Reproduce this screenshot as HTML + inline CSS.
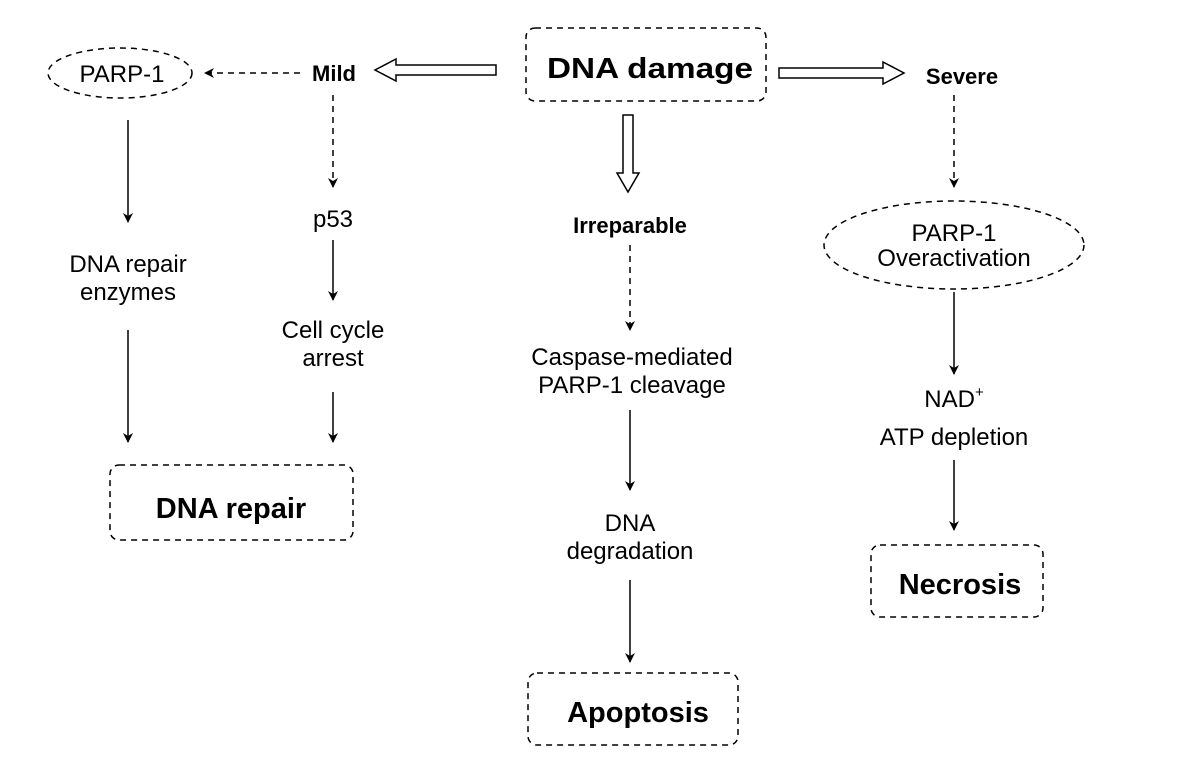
<!DOCTYPE html>
<html><head><meta charset="utf-8"><style>
html,body{margin:0;padding:0;background:#fff;}
svg{display:block;}
text{font-family:"Liberation Sans",Arial,sans-serif;fill:#000;}
.b{font-weight:bold;}
</style></head><body>
<svg width="1178" height="778" viewBox="0 0 1178 778" xmlns="http://www.w3.org/2000/svg">
<defs>
<marker id="ah" markerWidth="10" markerHeight="14" refX="9" refY="7" orient="auto" markerUnits="userSpaceOnUse">
<path d="M0,2 L10,7 L0,12 L3,7 Z" fill="#000"/>
</marker>
</defs>
<g fill="none" stroke="#000" stroke-width="1.5" stroke-dasharray="6,5">
<rect x="526" y="28" width="240" height="73" rx="9"/>
<rect x="110" y="465" width="243" height="75" rx="9"/>
<rect x="528" y="673" width="210" height="72" rx="9"/>
<rect x="871" y="545" width="172" height="72" rx="9"/>
<ellipse cx="120" cy="73" rx="72" ry="25"/>
<ellipse cx="954" cy="245" rx="130" ry="44"/>
</g>
<g fill="#fff" stroke="#000" stroke-width="1.5">
<path d="M496,65 L396,65 L396,59 L375,70 L396,81 L396,75 L496,75 Z"/>
<path d="M779,68 L883,68 L883,62 L904,73 L883,84 L883,78 L779,78 Z"/>
<path d="M623,115 L633,115 L633,173 L639,173 L628,192 L617,173 L623,173 Z"/>
</g>
<g stroke="#000" stroke-width="1.5" stroke-dasharray="6,5" marker-end="url(#ah)">
<line x1="300" y1="73" x2="205" y2="73"/>
<line x1="333" y1="95" x2="333" y2="187"/>
<line x1="954" y1="95" x2="954" y2="187"/>
<line x1="630" y1="245" x2="630" y2="330"/>
</g>
<g stroke="#000" stroke-width="1.5" marker-end="url(#ah)">
<line x1="128" y1="120" x2="128" y2="222"/>
<line x1="128" y1="330" x2="128" y2="442"/>
<line x1="333" y1="240" x2="333" y2="300"/>
<line x1="333" y1="392" x2="333" y2="442"/>
<line x1="630" y1="410" x2="630" y2="490"/>
<line x1="630" y1="580" x2="630" y2="662"/>
<line x1="954" y1="292" x2="954" y2="374"/>
<line x1="954" y1="460" x2="954" y2="530"/>
</g>
<g text-anchor="middle">
<text x="650" y="78" font-size="29" class="b" textLength="206" lengthAdjust="spacingAndGlyphs">DNA damage</text>
<text x="334" y="81" font-size="22" class="b">Mild</text>
<text x="962" y="84" font-size="22" class="b">Severe</text>
<text x="630" y="233" font-size="22" class="b">Irreparable</text>
<text x="122" y="82" font-size="24">PARP-1</text>
<text x="954" y="241" font-size="24">PARP-1</text>
<text x="954" y="266" font-size="24">Overactivation</text>
<text x="128" y="272" font-size="24">DNA repair</text>
<text x="128" y="300" font-size="24">enzymes</text>
<text x="333" y="227" font-size="24">p53</text>
<text x="333" y="338" font-size="24">Cell cycle</text>
<text x="333" y="366" font-size="24">arrest</text>
<text x="632" y="365" font-size="24">Caspase-mediated</text>
<text x="632" y="393" font-size="24">PARP-1 cleavage</text>
<text x="630" y="531" font-size="24">DNA</text>
<text x="630" y="559" font-size="24">degradation</text>
<text x="954" y="407" font-size="24">NAD<tspan font-size="15" dy="-10">+</tspan></text>
<text x="954" y="445" font-size="24">ATP depletion</text>
<text x="231" y="518" font-size="29" class="b">DNA repair</text>
<text x="638" y="722" font-size="29" class="b">Apoptosis</text>
<text x="960" y="594" font-size="29" class="b">Necrosis</text>
</g>
</svg>
</body></html>
